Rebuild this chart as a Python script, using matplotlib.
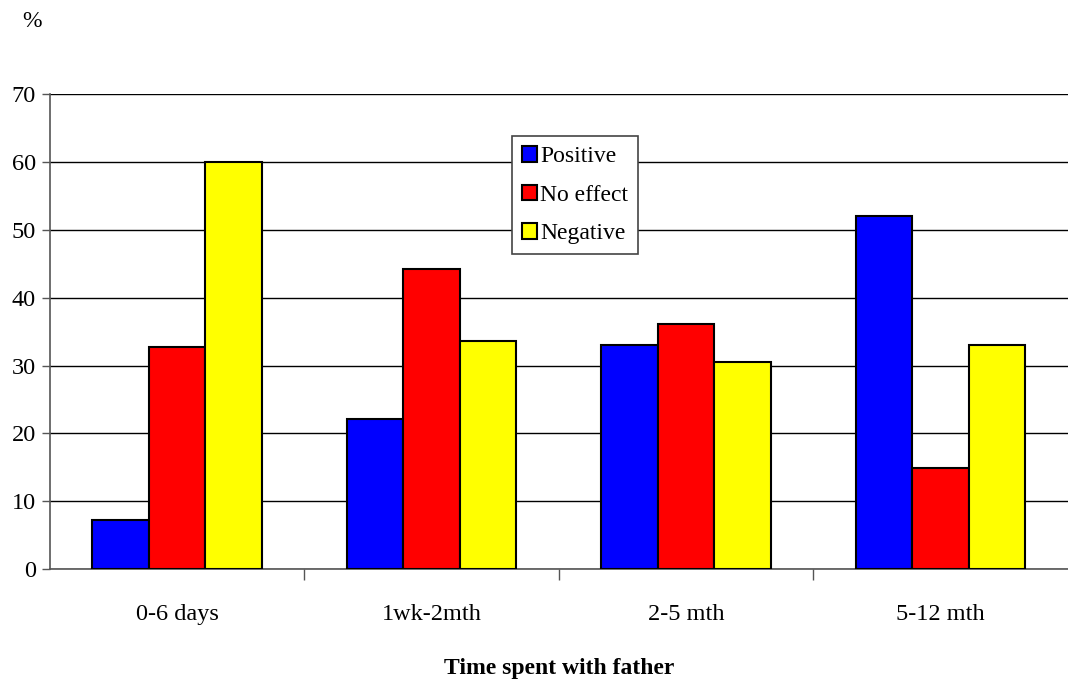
import numpy as np
import matplotlib
matplotlib.use("Agg")
import matplotlib.pyplot as plt
from matplotlib.ticker import FixedLocator

plt.rcParams['font.family'] = ['Liberation Serif', 'DejaVu Serif']

categories = ["0-6 days", "1wk-2mth", "2-5 mth", "5-12 mth"]
series_names = ["Positive", "No effect", "Negative"]
positive = [7.3, 22.2, 33.0, 52.0]
no_effect = [32.7, 44.2, 36.2, 14.9]
negative = [60.0, 33.6, 30.6, 33.1]
colors = ["#0000FF", "#FF0000", "#FFFF00"]

fig = plt.figure(figsize=(10.68, 6.84), dpi=100)
ax = fig.add_axes([0.0468, 0.168, 0.9532, 0.694])

x = np.arange(len(categories))
width = 0.222
for i, (vals, name, col) in enumerate(zip([positive, no_effect, negative], series_names, colors)):
    ax.bar(x + (i - 1) * width, vals, width, color=col, edgecolor="black",
           linewidth=1.5, label=name, zorder=3)

ax.set_xlim(-0.5, len(categories) - 0.5)
ax.set_ylim(0, 70)
ax.set_yticks(np.arange(0, 71, 10))
ax.yaxis.grid(True, color="black", linewidth=1.0, zorder=0)
ax.set_axisbelow(True)

ax.set_xticks(x)
ax.set_xticklabels(categories, fontsize=17.5)
ax.tick_params(axis="x", which="major", length=0, pad=25)
ax.xaxis.set_minor_locator(FixedLocator(x[:-1] + 0.5))
ax.tick_params(axis="x", which="minor", length=8, width=1, color="#555555", direction="out")
ax.tick_params(axis="y", labelsize=17.5, length=6, width=1, color="#555555", pad=4)

for side in ("top", "right"):
    ax.spines[side].set_visible(False)
for side in ("left", "bottom"):
    ax.spines[side].set_color("#555555")
    ax.spines[side].set_linewidth(1.2)

ax.set_xlabel("Time spent with father", fontsize=17, fontweight="bold", labelpad=24)
fig.text(0.0206, 0.969, "%", fontsize=17, ha="left", va="center")

leg = ax.legend(loc="upper left", bbox_to_anchor=(0.4538, 0.912), fontsize=17,
                frameon=True, fancybox=False, edgecolor="#444444", framealpha=1,
                handlelength=0.64, handleheight=0.64, handletextpad=0.12,
                borderpad=0.43, labelspacing=0.73, borderaxespad=0)
leg.get_frame().set_linewidth(1.2)

fig.savefig("out.png", dpi=100)
